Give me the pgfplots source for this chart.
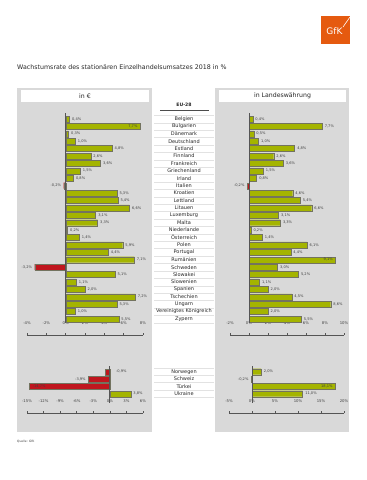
\documentclass[border=0pt]{standalone}
\usepackage{fontspec}
\setmainfont{DejaVu Sans}
\usepackage{pgfplots}
\pgfplotsset{compat=1.18}
\definecolor{gbar}{RGB}{164,180,0}
\definecolor{rbar}{RGB}{192,22,30}
\definecolor{panel}{RGB}{217,217,217}
\definecolor{gfk}{RGB}{229,90,15}
\definecolor{edge}{RGB}{115,115,95}
\definecolor{axisc}{RGB}{85,85,85}
\definecolor{sep}{RGB}{226,226,226}
\pgfplotsset{
  panelaxis/.style={scale only axis, clip=false,
    axis x line*=bottom, x axis line style={axisc, line width=0.7pt},
    tick align=inside, major tick length=2.5pt, xtick style={axisc, line width=0.5pt},
    xticklabel style={anchor=center, yshift=12pt, font=\fontsize{3.8}{4}\selectfont, text=black!75},
  },
  vals/.style={xbar, bar shift=0pt, bar width=6pt, line width=0.3pt, draw=edge,
    point meta=x,
    nodes near coords={\pgfmathprintnumber[fixed,fixed zerofill,precision=1,use comma,assume math mode=true]{\pgfplotspointmeta}\%},
    nodes near coords style={font=\fontsize{3.6}{4}\selectfont, text=black!75, inner sep=0pt}},
  outR/.style={vals, every node near coord/.append style={anchor=west, xshift=2.5pt}},
  inR/.style={vals, every node near coord/.append style={anchor=east, xshift=-2.5pt}},
  outL/.style={vals, every node near coord/.append style={anchor=east, xshift=-2.5pt}},
  inL/.style={vals, every node near coord/.append style={anchor=west, xshift=4pt}},
}
\begin{document}
\begin{tikzpicture}
\path[use as bounding box] (0pt,0pt) rectangle (367pt,-480pt);
% logo
\fill[gfk] (321pt,-16pt) rectangle (350pt,-44pt);
\node[text=white, font=\fontsize{9}{10}\selectfont, inner sep=0pt] at (334.5pt,-31pt) {GfK};
\draw[white, line width=0.6pt] (343pt,-27pt) -- (350pt,-17pt);
% title
\node[anchor=base west, inner sep=0pt, font=\fontsize{6.3}{7}\selectfont, text=black!85] at (17pt,-69.5pt) {Wachstumsrate des stationären Einzelhandelsumsatzes 2018 in \%};
% panels
\fill[panel] (17pt,-88pt) rectangle (152pt,-432pt);
\fill[panel] (215pt,-88pt) rectangle (349pt,-432pt);
\fill[white] (21pt,-90pt) rectangle (149pt,-102pt);
\fill[white] (219pt,-90pt) rectangle (346pt,-102pt);
\node[font=\fontsize{6.2}{7}\selectfont, text=black!85] at (85pt,-96pt) {in €};
\node[font=\fontsize{6.2}{7}\selectfont, text=black!85] at (282.5pt,-96pt) {in Landeswährung};
% middle column
\node[font=\bfseries\fontsize{4.6}{5}\selectfont, text=black!85] at (184pt,-104.5pt) {EU-28};
\draw[black!70, line width=0.8pt] (160pt,-110pt) -- (209pt,-110pt);
\foreach \k in {0,...,28} {\draw[sep, line width=0.3pt] (154pt,{-115.3pt-\k*7.407pt}) -- (214pt,{-115.3pt-\k*7.407pt});}
\foreach \k in {0,...,4} {\draw[sep, line width=0.3pt] (154pt,{-368pt-\k*7.3pt}) -- (214pt,{-368pt-\k*7.3pt});}
\node[anchor=west, inner sep=0pt, font=\fontsize{3}{3}\selectfont, text=black!75] at (17pt,-441.5pt) {Quelle: GfK};

% ---------- top left: in EUR
\begin{axis}[panelaxis, at={(27pt,-335pt)}, anchor=south west, width=116pt, height=222pt,
  xmin=-4, xmax=8, ymin=-2.16, ymax=27.81,
  axis y line*=right, y axis line style={draw=none}, ytick style={draw=none},
  xtick={-4,-2,0,2,4,6,8}, xticklabels={-4\%,-2\%,0\%,2\%,4\%,6\%,8\%},
  ytick={0,...,27},
  yticklabels={Zypern, Vereinigtes Königreich, Ungarn, Tschechien, Spanien, Slowenien, Slowakei, Schweden, Rumänien, Portugal, Polen, Österreich, Niederlande, Malta, Luxemburg, Litauen, Lettland, Kroatien, Italien, Irland, Griechenland, Frankreich, Finnland, Estland, Deutschland, Dänemark, Bulgarien, Belgien},
  yticklabel style={anchor=center, xshift=41pt, font=\fontsize{5}{5}\selectfont, text=black!85}]
\addplot[outR, fill=gbar] coordinates {(0.4,27) (0.3,25) (1.0,24) (4.8,23) (2.6,22) (3.6,21) (1.5,20) (0.8,19) (5.3,17) (5.4,16) (6.6,15) (3.1,14) (3.3,13) (0.2,12) (1.4,11) (5.9,10) (4.4,9) (7.1,8) (5.1,6) (1.1,5) (2.0,4) (7.2,3) (5.3,2) (1.0,1) (5.5,0)};
\addplot[inR, fill=gbar] coordinates {(7.7,26)};
\addplot[outL, fill=rbar] coordinates {(-0.2,18) (-3.2,7)};
\draw[axisc, line width=0.8pt] (axis cs:0,-0.54) -- (axis cs:0,27.81);
\end{axis}

% ---------- top right: local currency
\begin{axis}[panelaxis, at={(230pt,-335pt)}, anchor=south west, width=114pt, height=222pt,
  xmin=-2, xmax=10, ymin=-2.16, ymax=27.81, axis y line=none,
  xtick={-2,0,2,4,6,8,10}, xticklabels={-2\%,0\%,2\%,4\%,6\%,8\%,10\%}]
\addplot[outR, fill=gbar] coordinates {(0.4,27) (7.7,26) (0.5,25) (1.0,24) (4.8,23) (2.6,22) (3.6,21) (1.5,20) (0.8,19) (4.6,17) (5.4,16) (6.6,15) (3.1,14) (3.3,13) (0.2,12) (1.4,11) (6.1,10) (4.4,9) (3.0,7) (5.2,6) (1.1,5) (2.0,4) (4.5,3) (8.6,2) (2.0,1) (5.5,0)};
\addplot[inR, fill=gbar] coordinates {(9.1,8)};
\addplot[outL, fill=rbar] coordinates {(-0.2,18)};
\draw[axisc, line width=0.8pt] (axis cs:0,-0.54) -- (axis cs:0,27.81);
\end{axis}

% ---------- bottom left
\begin{axis}[panelaxis, at={(27pt,-413pt)}, anchor=south west, width=116pt, height=47pt,
  xmin=-15, xmax=6, ymin=-2.64, ymax=3.78,
  axis y line*=right, y axis line style={draw=none}, ytick style={draw=none},
  xtick={-15,-12,-9,-6,-3,0,3,6}, xticklabels={-15\%,-12\%,-9\%,-6\%,-3\%,0\%,3\%,6\%},
  ytick={0,1,2,3}, yticklabels={Ukraine, Türkei, Schweiz, Norwegen},
  yticklabel style={anchor=center, xshift=41pt, font=\fontsize{5}{5}\selectfont, text=black!85}]
\addplot[outR, fill=gbar] coordinates {(3.8,0)};
\addplot[outL, fill=rbar] coordinates {(-3.9,2)};
\addplot[inL, fill=rbar] coordinates {(-14.7,1)};
\addplot[vals, fill=rbar, every node near coord/.append style={anchor=west, xshift=11pt}] coordinates {(-0.9,3)};
\draw[axisc, line width=0.8pt] (axis cs:0,-1.27) -- (axis cs:0,3.78);
\end{axis}

% ---------- bottom right
\begin{axis}[panelaxis, at={(229pt,-413pt)}, anchor=south west, width=115pt, height=47pt,
  xmin=-5, xmax=20, ymin=-2.64, ymax=3.78, axis y line=none,
  xtick={-5,0,5,10,15,20}, xticklabels={-5\%,0\%,5\%,10\%,15\%,20\%}]
\addplot[outR, fill=gbar] coordinates {(2.0,3) (11.0,0)};
\addplot[inR, fill=gbar] coordinates {(18.1,1)};
\addplot[outL, fill=rbar] coordinates {(-0.2,2)};
\draw[axisc, line width=0.8pt] (axis cs:0,-1.27) -- (axis cs:0,3.78);
\end{axis}
\end{tikzpicture}
\end{document}
